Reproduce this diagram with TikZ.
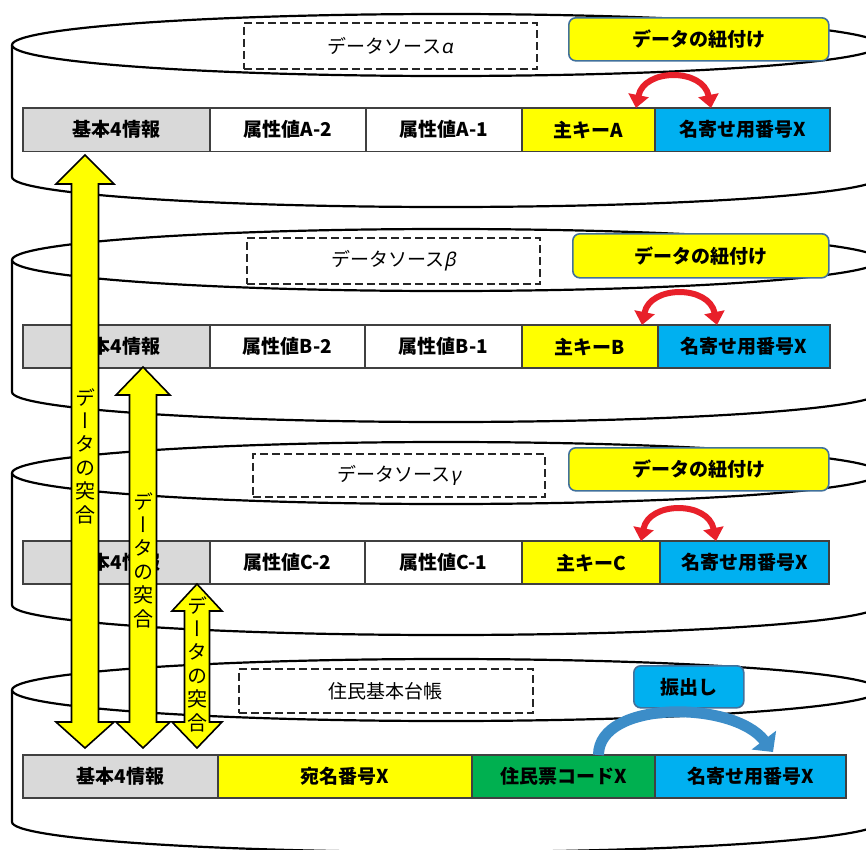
\documentclass[tikz,border=0pt]{standalone}
\usepackage{fontspec}
\usepackage{graphicx}
\setmainfont{Noto Sans CJK JP}
\newfontfamily\vjp{Noto Sans CJK JP}[RawFeature=+vert]
\newfontfamily\grk{Noto Sans}[FakeSlant=0.2]
\usetikzlibrary{arrows.meta,calc}
\definecolor{cgray}{HTML}{D9D9D9}
\definecolor{cyel}{HTML}{FFFF00}
\definecolor{cblue}{HTML}{00B0F0}
\definecolor{cgreen}{HTML}{00B050}
\definecolor{cframe}{HTML}{41719C}
\definecolor{cred}{HTML}{E8202A}
\definecolor{carrow}{HTML}{3C8DC8}
\tikzset{
  cyl/.style={draw=black, fill=white, line width=2.2pt},
  cell/.style={draw=black!75, line width=1.3pt, minimum height=43.5, inner sep=0pt,
    outer sep=0pt, anchor=north west, font=\fontsize{19}{19}\selectfont\bfseries},
  dbox/.style={draw=black!85, dashed, dash pattern=on 8pt off 4pt, line width=1.8pt,
    inner sep=0pt, anchor=north west, font=\fontsize{19}{19}\selectfont},
  rbox/.style={draw=cframe, line width=1.6pt, rounded corners=7pt, fill=cyel,
    inner sep=0pt, anchor=north west, font=\fontsize{19}{19}\selectfont\bfseries},
  redarr/.style={draw=cred, line width=6pt,
    {Triangle[length=13pt,width=20pt]}-{Triangle[length=13pt,width=20pt]}},
  bluearr/.style={draw=carrow, line width=11pt,
    -{Triangle[length=15pt,width=30pt]}},
  yarr/.style={fill=cyel, draw=black, line width=1.6pt, line join=miter},
  vtext/.style={align=center, inner sep=0pt, font=\vjp\fontsize{20}{23.4}\selectfont}
}
\newcommand\cylinder[1]{%
  \draw[cyl] (12,#1) -- (12,#1+132) arc[start angle=180,end angle=0,x radius=434,y radius=30] -- (880,#1);
  \draw[cyl] (446,#1) ellipse[x radius=434,y radius=31];
}
\newcommand\yarrow[7]{% xc, ytop, ybase, ybb, ybot, shaft half, head half
  \draw[yarr] (#1,#2) -- (#1+#7,#3) -- (#1+#6,#3) -- (#1+#6,#4) -- (#1+#7,#4) -- (#1,#5)
    -- (#1-#7,#4) -- (#1-#6,#4) -- (#1-#6,#3) -- (#1-#7,#3) -- cycle;
}
\begin{document}
\begin{tikzpicture}[x=1pt,y=-1pt]
\useasboundingbox (0,0) rectangle (866,849);
\clip (0,0) rectangle (866,849);
\fill[white] (0,0) rectangle (866,849);

% ---------- cylinder alpha ----------
\cylinder{45}
\node[dbox, minimum width=293, minimum height=46] (da) at (243,22) {データソース{\grk α}};
\node[rbox, minimum width=260, minimum height=43] (ra) at (568,17) {データの紐付け};
\node[cell, fill=cgray, minimum width=187] (a1) at (23,108) {基本4情報};
\node[cell, minimum width=156] (a2) at (210,108) {属性値A-2};
\node[cell, minimum width=156] (a3) at (366,108) {属性値A-1};
\node[cell, fill=cyel, minimum width=133] (a4) at (522,108) {主キーA};
\node[cell, fill=cblue, minimum width=175] (a5) at (655,108) {名寄せ用番号X};
\draw[redarr] ($(a4.north east)+(-19,0)$) .. controls +(8,-40) and +(-8,-40) .. ($(a5.north west)+(56,0)$);

% ---------- cylinder beta ----------
\cylinder{260}
\node[dbox, minimum width=293, minimum height=46] (db) at (246,237) {データソース{\grk β}};
\node[rbox, minimum width=256, minimum height=44] (rb) at (572,233) {データの紐付け};
\node[cell, fill=cgray, minimum width=187, minimum height=43] (b1) at (23,325) {基本4情報};
\node[cell, minimum width=155, minimum height=43] (b2) at (210,325) {属性値B-2};
\node[cell, minimum width=157, minimum height=43] (b3) at (365,325) {属性値B-1};
\node[cell, fill=cyel, minimum width=136, minimum height=43] (b4) at (522,325) {主キーB};
\node[cell, fill=cblue, minimum width=172, minimum height=43] (b5) at (658,325) {名寄せ用番号X};
\draw[redarr] ($(b4.north east)+(-16,0)$) .. controls +(8,-40) and +(-8,-40) .. ($(b5.north west)+(59,0)$);

% ---------- cylinder gamma ----------
\cylinder{473}
\node[dbox, minimum width=292, minimum height=43] (dc) at (252,453) {データソース{\grk γ}};
\node[rbox, minimum width=260, minimum height=43] (rc) at (568,447) {データの紐付け};
\node[cell, fill=cgray, minimum width=187, minimum height=43] (c1) at (23,541) {基本4情報};
\node[cell, minimum width=155, minimum height=43] (c2) at (210,541) {属性値C-2};
\node[cell, minimum width=157, minimum height=43] (c3) at (365,541) {属性値C-1};
\node[cell, fill=cyel, minimum width=138, minimum height=43] (c4) at (522,541) {主キーC};
\node[cell, fill=cblue, minimum width=169, minimum height=43] (c5) at (660,541) {名寄せ用番号X};
\draw[redarr] ($(c4.north east)+(-19,0)$) .. controls +(8,-40) and +(-8,-40) .. ($(c5.north west)+(56,0)$);

% ---------- basic resident register ----------
\cylinder{690}
\node[dbox, minimum width=294, minimum height=44] (dd) at (238,668) {住民基本台帳};
\node[rbox, fill=cblue, minimum width=110, minimum height=42] (rd) at (633,665) {振出し};
\node[cell, fill=cgray, minimum width=195, minimum height=43] (d1) at (23,755) {基本4情報};
\node[cell, fill=cyel, minimum width=254, minimum height=43] (d2) at (218,755) {宛名番号X};
\node[cell, fill=cgreen, minimum width=183, minimum height=43] (d3) at (472,755) {住民票コードX};
\node[cell, fill=cblue, minimum width=191, minimum height=43] (d4) at (655,755) {名寄せ用番号X};
\draw[bluearr] ($(d3.north)+(35,0)$) .. controls +(0,-55) and +(-40,-52) .. ($(d4.north west)+(118,-3)$);

% ---------- matching arrows ----------
\yarrow{85}{155}{184}{722}{748}{13.5}{29}
\yarrow{143}{367}{395}{722}{748}{13.5}{27}
\yarrow{197}{584}{611}{722}{748}{12.5}{25}
\node[vtext] (m1) at (85,456) {デ\\ー\\タ\\の\\突\\合};
\node[vtext] (m2) at (143,560) {デ\\ー\\タ\\の\\突\\合};
\node[vtext] (m3) at (197,664) {デ\\ー\\タ\\の\\突\\合};
\end{tikzpicture}
\end{document}
